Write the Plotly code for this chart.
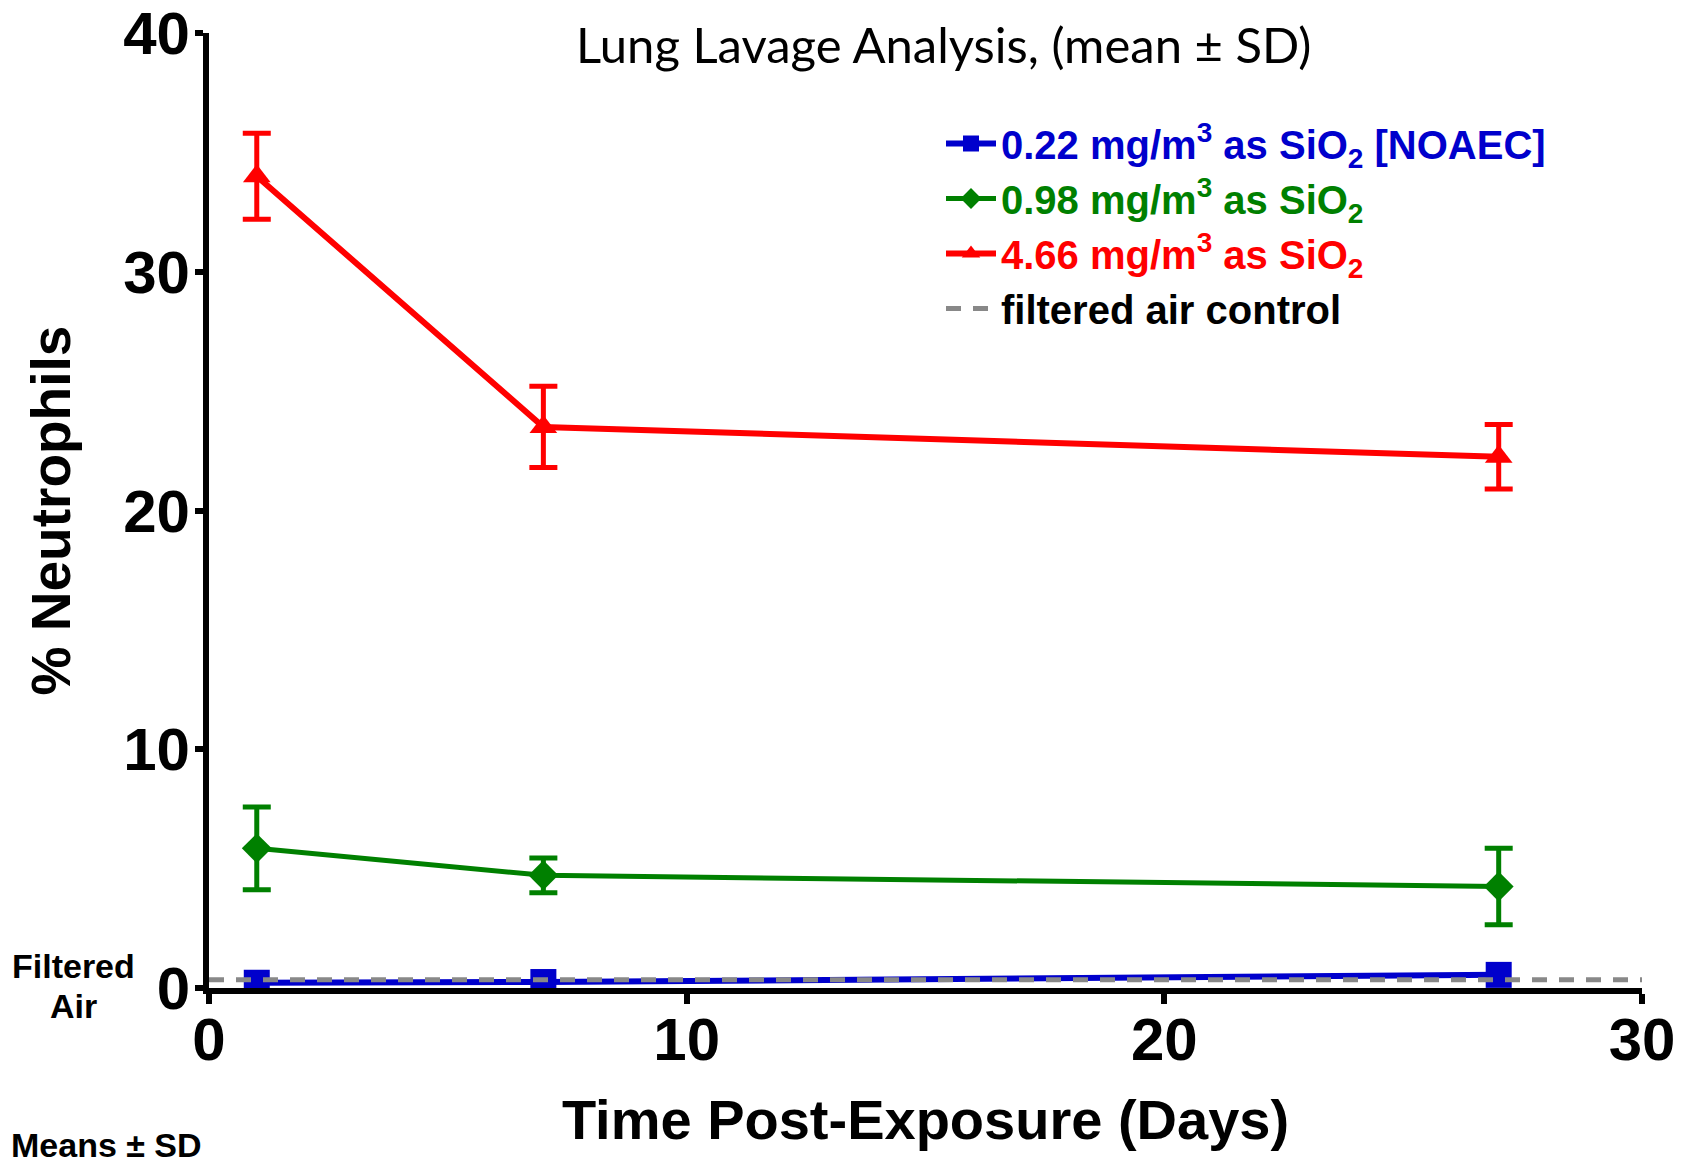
import plotly.graph_objects as go

days = [1, 7, 27]

low_mean = [0.22, 0.25, 0.55]
low_sd = [0.05, 0.05, 0.1]

mid_mean = [5.85, 4.72, 4.25]
mid_sd = [1.73, 0.73, 1.6]

high_mean = [34.0, 23.5, 22.25]
high_sd = [1.8, 1.7, 1.35]

control_x = [0, 30]
control_y = [0.35, 0.35]

x_ticks = [0, 10, 20, 30]
y_ticks = [0, 10, 20, 30, 40]

names = [
    '<span style="color:#0000CC"><b>0.22 mg/m<sup>3</sup> as SiO<sub>2</sub> [NOAEC]</b></span>',
    '<span style="color:#008000"><b>0.98 mg/m<sup>3</sup> as SiO<sub>2</sub></b></span>',
    '<span style="color:#FF0000"><b>4.66 mg/m<sup>3</sup> as SiO<sub>2</sub></b></span>',
    '<span style="color:#000000"><b>filtered air control</b></span>',
]

FONT = "Liberation Sans, Arial, sans-serif"

W, H = 1688, 1165
# plot area in page pixels
L, R, T, B = 209, 1642, 33, 988
PW, PH = R - L, B - T


def px(x):
    return (x - L) / PW


def py(y):
    return (B - y) / PH


fig = go.Figure()

fig.add_trace(go.Scatter(
    x=days, y=low_mean, name=names[0], mode="lines+markers",
    line=dict(color="#0000CC", width=6),
    marker=dict(symbol="square", size=26, color="#0000CC"),
    error_y=dict(type="data", array=low_sd, color="#0000CC", thickness=4, width=8),
))
fig.add_trace(go.Scatter(
    x=days, y=mid_mean, name=names[1], mode="lines+markers",
    line=dict(color="#008000", width=5),
    marker=dict(symbol="diamond", size=23, color="#008000"),
    error_y=dict(type="data", array=mid_sd, color="#008000", thickness=5, width=14),
))
fig.add_trace(go.Scatter(
    x=days, y=high_mean, name=names[2], mode="lines+markers",
    line=dict(color="#FF0000", width=6),
    marker=dict(symbol="triangle-up", size=24, color="#FF0000"),
    error_y=dict(type="data", array=high_sd, color="#FF0000", thickness=5, width=14),
))
fig.add_trace(go.Scatter(
    x=control_x, y=control_y, name=names[3], mode="lines",
    line=dict(color="#888888", width=5, dash="15px,12px"),
))

fig.update_layout(
    width=W, height=H,
    margin=dict(l=L, r=W - R, t=T, b=H - B, autoexpand=False),
    paper_bgcolor="white", plot_bgcolor="white",
    font=dict(family=FONT, color="black"),
    showlegend=True,
    legend=dict(
        x=px(941), y=py(111), xanchor="left", yanchor="top",
        font=dict(family=FONT, size=40),
        bgcolor="rgba(0,0,0,0)", itemwidth=50, tracegroupgap=0,
    ),
    xaxis=dict(
        range=[0, 30], tickvals=x_ticks, ticktext=[str(v) for v in x_ticks],
        automargin=False, ticklabeloverflow="allow",
        showgrid=False, zeroline=False, showline=True, linecolor="black", linewidth=6,
        ticks="outside", ticklen=10, tickwidth=6, tickcolor="black",
        ticklabelstandoff=-16,
        tickfont=dict(family=FONT, size=60, weight="bold"),
        title=dict(text="<b>Time Post-Exposure (Days)</b>", font=dict(family=FONT, size=56), standoff=30),
    ),
    yaxis=dict(
        range=[0, 40], tickvals=y_ticks, ticktext=[str(v) for v in y_ticks],
        automargin=False, ticklabeloverflow="allow",
        showgrid=False, zeroline=False, showline=True, linecolor="black", linewidth=6,
        ticks="outside", ticklen=8, tickwidth=6, tickcolor="black",
        ticklabelstandoff=-7,
        tickfont=dict(family=FONT, size=60, weight="bold"),
        title=dict(text="<b>% Neutrophils</b>", font=dict(family=FONT, size=55), standoff=37),
    ),
    annotations=[
        dict(text="Lung Lavage Analysis, (mean ± SD)", xref="paper", yref="paper",
             x=px(944), y=py(44), xanchor="center", yanchor="middle",
             showarrow=False, font=dict(family="Lato, Open Sans, sans-serif", size=49, color="black")),
        dict(text="<b>Filtered</b>", xref="paper", yref="paper",
             x=px(73), y=py(966), xanchor="center", yanchor="middle",
             showarrow=False, font=dict(family=FONT, size=34, color="black")),
        dict(text="<b>Air</b>", xref="paper", yref="paper",
             x=px(73), y=py(1006), xanchor="center", yanchor="middle",
             showarrow=False, font=dict(family=FONT, size=34, color="black")),
        dict(text="<b>Means ± SD</b>", xref="paper", yref="paper",
             x=px(9), y=py(1145), xanchor="left", yanchor="middle",
             showarrow=False, font=dict(family=FONT, size=34, color="black")),
    ],
)

fig.write_html(
    "out.html",
    config={"displayModeBar": False},
    post_script="document.body.style.margin='0';document.body.style.padding='0';document.body.style.overflow='hidden';",
)
